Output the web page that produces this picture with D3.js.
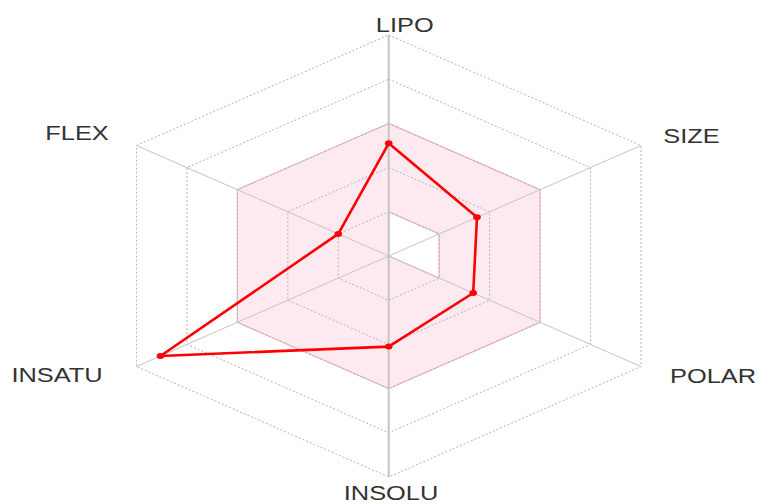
<!DOCTYPE html>
<html>
<head>
<meta charset="utf-8">
<script src="https://cdn.jsdelivr.net/npm/d3@7"></script>
<style>
  html, body { margin: 0; padding: 0; background: #fff; }
  svg { display: block; }
  text { font-family: "Liberation Sans", Arial, sans-serif; }
</style>
</head>
<body>
<div id="radar"></div>
<script>
// Data
const axes = ['LIPO', 'SIZE', 'POLAR', 'INSOLU', 'INSATU', 'FLEX'];
const values = [0.51, 0.35, 0.335, 0.41, 0.905, 0.2];
const optimalMin = [0.2, 0.2, 0.2, 0, 0, 0];
const optimalMax = [0.6, 0.6, 0.6, 0.6, 0.6, 0.6];
const rings = [0.2, 0.4, 0.6, 0.8, 1.0];

const w = 759;
const h = 504;
const cx = 388.7;
const cy = 256;
const stretch = 1.318; // picture is wider than a regular hexagon

const svg = d3.select('#radar')
  .append('svg')
  .attr('width', w)
  .attr('height', h);

// Scales
const rScale = d3.scaleLinear().domain([0, 1]).range([0, 221]);
const angle = d3.scaleLinear().domain([0, axes.length]).range([0, 2 * Math.PI]);

const px = (i, v) => cx + rScale(v) * Math.sin(angle(i)) * stretch;
const py = (i, v) => cy - rScale(v) * Math.cos(angle(i));

const line = d3.line().x(d => px(d.i, d.v)).y(d => py(d.i, d.v));

// Optimal (pink) zone: outer ring minus inner ring
const outer = axes.map((a, i) => [px(i, optimalMax[i]), py(i, optimalMax[i])]);
const inner = axes.map((a, i) => [px(i, optimalMin[i]), py(i, optimalMin[i])]).reverse();
const zonePath = 'M' + outer.join('L') + 'Z' + 'M' + inner.join('L') + 'Z';

svg.append('path')
  .attr('d', zonePath)
  .attr('fill', '#fdeaf0')
  .attr('fill-rule', 'evenodd')
  .attr('stroke', '#f5b8c5')
  .attr('stroke-width', 1.3);

// Rings
rings.forEach(r => {
  const pts = axes.map((a, i) => ({ i, v: r }));
  pts.push({ i: 0, v: r });
  svg.append('path')
    .attr('d', line(pts))
    .attr('fill', 'none')
    .attr('stroke', '#b4b4b4')
    .attr('stroke-width', 1)
    .attr('stroke-dasharray', '2,2');
});

// Axes
svg.selectAll('.axis')
  .data(axes)
  .enter()
  .append('line')
    .attr('class', 'axis')
    .attr('x1', cx)
    .attr('y1', cy)
    .attr('x2', (d, i) => px(i, 1))
    .attr('y2', (d, i) => py(i, 1))
    .attr('stroke', '#c4c4c4')
    .attr('stroke-width', (d, i) => (i === 0 || i === 3) ? 2 : 1);

// Molecule line
const molPts = values.map((v, i) => ({ i, v }));
molPts.push({ i: 0, v: values[0] });

svg.append('path')
  .attr('d', line(molPts))
  .attr('fill', 'none')
  .attr('stroke', '#ff0000')
  .attr('stroke-width', 2.6)
  .attr('stroke-linejoin', 'round');

svg.selectAll('.pt')
  .data(values)
  .enter()
  .append('ellipse')
    .attr('class', 'pt')
    .attr('cx', (d, i) => px(i, d))
    .attr('cy', (d, i) => py(i, d))
    .attr('rx', 3.8)
    .attr('ry', 3)
    .attr('fill', '#ff0000');

// Labels
const labelPos = [
  [404.7, 32], [691.5, 143], [713, 383],
  [391, 500], [57, 382], [77, 140]
];

svg.selectAll('.label')
  .data(axes)
  .enter()
  .append('text')
    .attr('class', 'label')
    .attr('transform', (d, i) => `translate(${labelPos[i][0]},${labelPos[i][1]}) scale(1.27,1)`)
    .attr('text-anchor', 'middle')
    .attr('font-size', 20)
    .attr('fill', '#333')
    .text(d => d);
</script>
</body>
</html>
